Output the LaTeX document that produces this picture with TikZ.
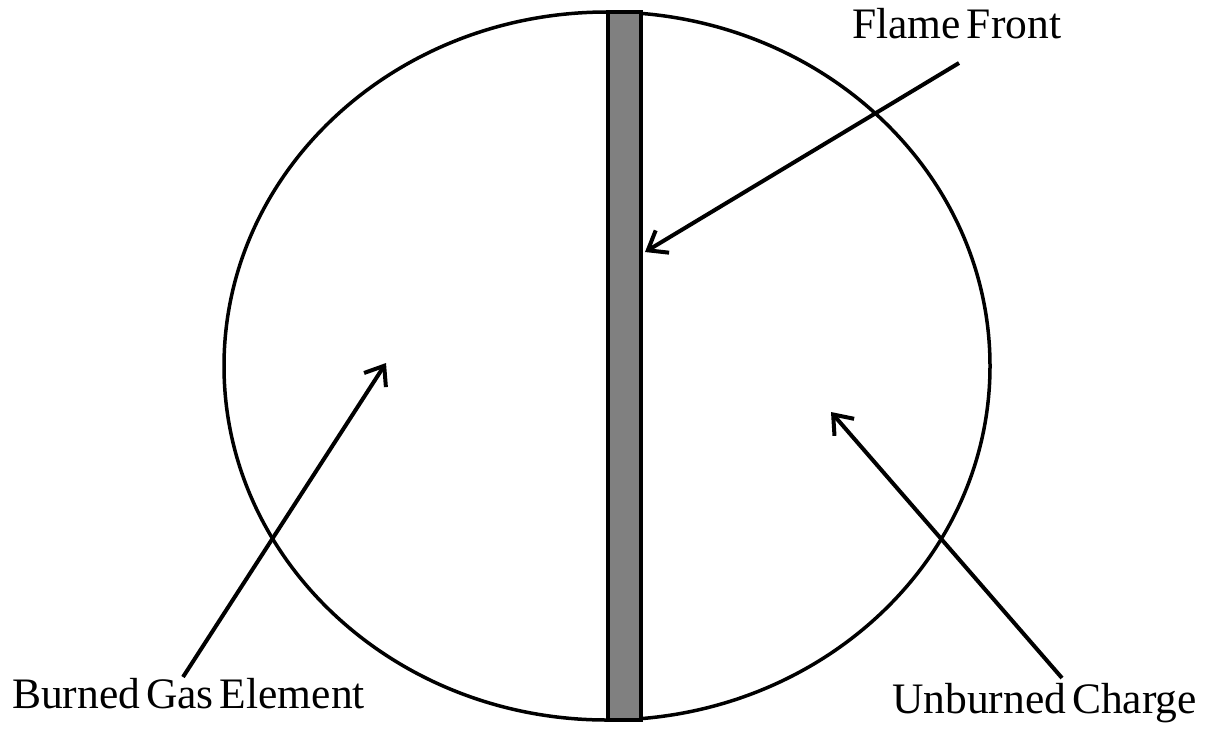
\documentclass[tikz,border=0pt]{standalone}
\usepackage{fontspec}
\setmainfont[WordSpace=0.55]{Liberation Serif}
\usetikzlibrary{arrows.meta, positioning, shapes.geometric}

\begin{document}
\begin{tikzpicture}[
    x=1pt, y=-1pt,
    chamber/.style={draw, line width=3.5pt, ellipse, minimum width=766pt,
                    minimum height=708pt, inner sep=0pt},
    front/.style  ={draw, line width=4pt, fill=black!50},
    arr/.style    ={-{Straight Barb[length=17pt, width=26pt]}, line width=4pt},
    lbl/.style    ={font=\fontsize{43.5}{48}\selectfont, inner sep=0pt, anchor=base west}
]
\useasboundingbox (0,0) rectangle (1209,729);

%% ── Combustion chamber ───────────────────────────────────────────
\node[chamber] (cyl) at (607,366) {};

%% ── Flame front band ─────────────────────────────────────────────
\draw[front] (608,12) rectangle (641,720);

%% ── Labels ───────────────────────────────────────────────────────
\node[lbl] (fflbl)  at (852,38)  {Flame Front};
\node[lbl] (bglbl)  at (12,708)  {Burned Gas Element};
\node[lbl] (uclbl)  at (892,713) {Unburned Charge};

%% ── Arrow ends ───────────────────────────────────────────────────
\coordinate (fftail) at (959,63);
\coordinate (fftip)  at (645,252);
\coordinate (bgtail) at (183,677);
\coordinate (bgtip)  at (386,363);
\coordinate (uctail) at (1062,678);
\coordinate (uctip)  at (831,412);

%% ── Pointers ─────────────────────────────────────────────────────
\draw[arr] (fftail) -- (fftip);
\draw[arr] (bgtail) -- (bgtip);
\draw[arr] (uctail) -- (uctip);

\end{tikzpicture}
\end{document}
